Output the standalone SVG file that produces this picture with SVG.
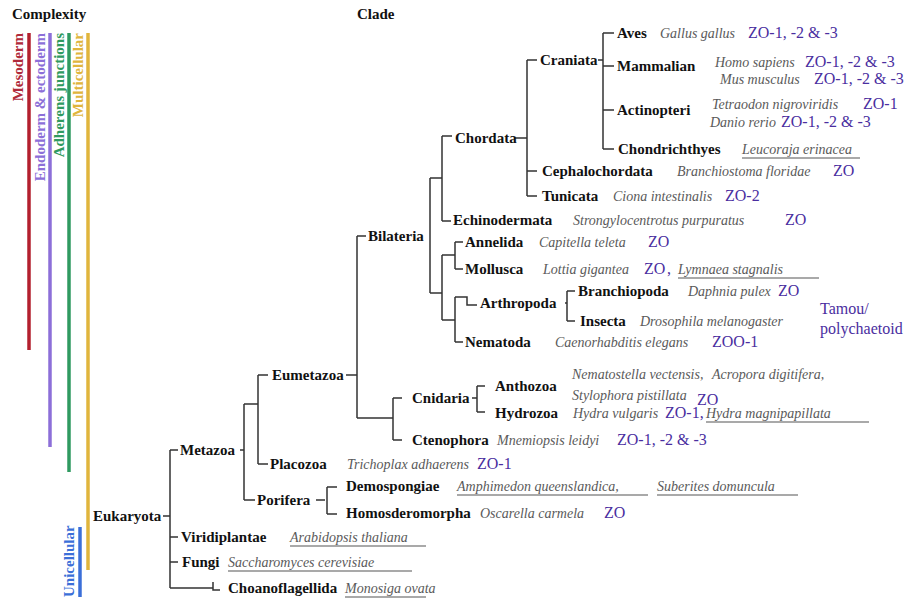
<svg xmlns="http://www.w3.org/2000/svg" width="908" height="600" viewBox="0 0 908 600">
<style>
text{font-family:"Liberation Serif","Times New Roman",serif;}
.lb{font-weight:bold;font-size:15px;fill:#111;}
.hd{font-weight:bold;font-size:15px;fill:#111;}
.sp{font-style:italic;font-size:14px;fill:#5a5a5a;}
.zo{font-size:16px;fill:#4a2ea0;}
.ul{stroke:#555;stroke-width:1.2;}
.tr{fill:none;stroke:#333;stroke-width:1.5;}
.bar{stroke-width:3.5;stroke-linecap:butt;}
.vt{font-weight:bold;font-size:15px;}
</style>
<rect width="908" height="600" fill="#fff"/>
<g id="complexity">
<text class="hd" x="12" y="19">Complexity</text>
<line class="bar" x1="29" y1="33" x2="29" y2="350" stroke="#b3202e"/>
<line class="bar" x1="50" y1="33" x2="50" y2="447" stroke="#8c6fd8"/>
<line class="bar" x1="69" y1="33" x2="69" y2="472" stroke="#2f9a60"/>
<line class="bar" x1="88" y1="33" x2="88" y2="570" stroke="#e0b53c"/>
<line class="bar" x1="80" y1="527" x2="80" y2="597" stroke="#3b6fd8"/>
<text class="vt" fill="#b02a3a" text-anchor="end" transform="translate(23,33) rotate(-90)">Mesoderm</text>
<text class="vt" fill="#8c6fd8" text-anchor="end" transform="translate(45,33) rotate(-90)">Endoderm &amp; ectoderm</text>
<text class="vt" fill="#2f9a60" text-anchor="end" transform="translate(64,33) rotate(-90)">Adherens junctions</text>
<text class="vt" fill="#e0b53c" text-anchor="end" transform="translate(83,33) rotate(-90)">Multicellular</text>
<text class="vt" fill="#3b6fd8" text-anchor="start" transform="translate(74,597) rotate(-90)">Unicellular</text>
</g>
<text class="hd" x="357" y="19">Clade</text>
<g id="connectors">
<path class="tr" d="M163 516H170M170 450V588M170 450H178M170 537H178M170 562H178M170 588H213M213 582V590H220"/>
<path class="tr" d="M240 450H244M244 404V500M244 404H258M258 375V464M258 375H268M258 464H268M244 500H255"/>
<path class="tr" d="M316 500H325M327 487V514M327 487H337M327 514H337"/>
<path class="tr" d="M346 375H357M357 236V418M357 236H366M357 418H393M393 398V440M393 398H402M393 440H402"/>
<path class="tr" d="M472 398H477M477 386V412M477 386H485M477 412H485"/>
<path class="tr" d="M430 178V293M430 178H442M442 136V221M442 136H452M442 221H451M430 293H442M442 255V320M442 255H455M455 242V269M455 242H463M455 269H463M442 320H455M455 297V342M455 297H467V305H477M455 342H463"/>
<path class="tr" d="M565 303H567M567 291V321M567 291H575M567 321H575"/>
<path class="tr" d="M514 138H527M527 60V196M527 60H537M527 171H537M527 196H537"/>
<path class="tr" d="M598 60H603M603 33V149M603 33H614M603 66H614M603 110H614M603 149H614"/>
</g>
<g id="aves"><text class="lb" x="617" y="38">Aves</text><text class="sp" x="660" y="38">Gallus gallus</text><text class="zo" x="748" y="38">ZO-1, -2 &amp; -3</text></g>
<g id="mammalian"><text class="lb" x="617" y="71">Mammalian</text><text class="sp" x="715" y="67">Homo sapiens</text><text class="zo" x="805" y="67">ZO-1, -2 &amp; -3</text><text class="sp" x="720" y="84">Mus musculus</text><text class="zo" x="814" y="84">ZO-1, -2 &amp; -3</text></g>
<g id="actinopteri"><text class="lb" x="617" y="115">Actinopteri</text><text class="sp" x="712" y="109">Tetraodon nigroviridis</text><text class="zo" x="863" y="109">ZO-1</text><text class="sp" x="710" y="127">Danio rerio</text><text class="zo" x="781" y="127">ZO-1, -2 &amp; -3</text></g>
<g id="chondrichthyes"><text class="lb" x="618" y="154">Chondrichthyes</text><text class="sp" x="742" y="154">Leucoraja erinacea</text><line class="ul" x1="742" y1="158" x2="860" y2="158"/></g>
<g id="craniata"><text class="lb" x="540" y="65">Craniata</text></g>
<g id="chordata"><text class="lb" x="455" y="143">Chordata</text></g>
<g id="cephalochordata"><text class="lb" x="542" y="176">Cephalochordata</text><text class="sp" x="677" y="176">Branchiostoma floridae</text><text class="zo" x="833" y="176">ZO</text></g>
<g id="tunicata"><text class="lb" x="542" y="201">Tunicata</text><text class="sp" x="613" y="201">Ciona intestinalis</text><text class="zo" x="725" y="201">ZO-2</text></g>
<g id="echinodermata"><text class="lb" x="453" y="225">Echinodermata</text><text class="sp" x="573" y="225">Strongylocentrotus purpuratus</text><text class="zo" x="785" y="225">ZO</text></g>
<g id="bilateria"><text class="lb" x="368" y="241">Bilateria</text></g>
<g id="annelida"><text class="lb" x="465" y="247">Annelida</text><text class="sp" x="539" y="247">Capitella teleta</text><text class="zo" x="648" y="247">ZO</text></g>
<g id="mollusca"><text class="lb" x="465" y="274">Mollusca</text><text class="sp" x="543" y="274">Lottia gigantea</text><text class="zo" x="644" y="274">ZO</text><text class="zo" x="667" y="274">,</text><text class="sp" x="678" y="274">Lymnaea stagnalis</text><line class="ul" x1="678" y1="278" x2="819" y2="278"/></g>
<g id="arthropoda"><text class="lb" x="480" y="308">Arthropoda</text></g>
<g id="branchiopoda"><text class="lb" x="578" y="296">Branchiopoda</text><text class="sp" x="688" y="296">Daphnia pulex</text><text class="zo" x="778" y="296">ZO</text></g>
<g id="insecta"><text class="lb" x="580" y="326">Insecta</text><text class="sp" x="640" y="326">Drosophila melanogaster</text><text class="zo" x="820" y="314">Tamou/</text><text class="zo" x="820" y="334">polychaetoid</text></g>
<g id="nematoda"><text class="lb" x="465" y="347">Nematoda</text><text class="sp" x="555" y="347">Caenorhabditis elegans</text><text class="zo" x="712" y="347">ZOO-1</text></g>
<g id="eumetazoa"><text class="lb" x="272" y="380">Eumetazoa</text></g>
<g id="cnidaria"><text class="lb" x="412" y="403">Cnidaria</text></g>
<g id="anthozoa"><text class="lb" x="495" y="391">Anthozoa</text><text class="sp" x="572" y="379">Nematostella vectensis,</text><text class="sp" x="712" y="379">Acropora digitifera,</text><text class="sp" x="572" y="400">Stylophora pistillata</text><text class="zo" x="697" y="405">ZO</text></g>
<g id="hydrozoa"><text class="lb" x="495" y="418">Hydrozoa</text><text class="sp" x="573" y="418">Hydra vulgaris</text><text class="zo" x="665" y="418">ZO-1,</text><text class="sp" x="706" y="418">Hydra magnipapillata</text><line class="ul" x1="706" y1="422" x2="869" y2="422"/></g>
<g id="ctenophora"><text class="lb" x="412" y="445">Ctenophora</text><text class="sp" x="497" y="445">Mnemiopsis leidyi</text><text class="zo" x="617" y="445">ZO-1, -2 &amp; -3</text></g>
<g id="metazoa"><text class="lb" x="180" y="455">Metazoa</text></g>
<g id="placozoa"><text class="lb" x="270" y="469">Placozoa</text><text class="sp" x="347" y="469">Trichoplax adhaerens</text><text class="zo" x="477" y="469">ZO-1</text></g>
<g id="porifera"><text class="lb" x="257" y="505">Porifera</text></g>
<g id="demospongiae"><text class="lb" x="346" y="491">Demospongiae</text><text class="sp" x="457" y="491">Amphimedon queenslandica,</text><line class="ul" x1="457" y1="495" x2="648" y2="495"/><text class="sp" x="657" y="491">Suberites domuncula</text><line class="ul" x1="657" y1="495" x2="798" y2="495"/></g>
<g id="homosderomorpha"><text class="lb" x="346" y="518">Homosderomorpha</text><text class="sp" x="480" y="518">Oscarella carmela</text><text class="zo" x="604" y="518">ZO</text></g>
<g id="eukaryota"><text class="lb" x="93" y="521">Eukaryota</text></g>
<g id="viridiplantae"><text class="lb" x="181" y="542">Viridiplantae</text><text class="sp" x="290" y="542">Arabidopsis thaliana</text><line class="ul" x1="290" y1="546" x2="426" y2="546"/></g>
<g id="fungi"><text class="lb" x="182" y="567">Fungi</text><text class="sp" x="228" y="567">Saccharomyces cerevisiae</text><line class="ul" x1="228" y1="571" x2="412" y2="571"/></g>
<g id="choanoflagellida"><text class="lb" x="228" y="593">Choanoflagellida</text><text class="sp" x="345" y="593">Monosiga ovata</text><line class="ul" x1="345" y1="597" x2="426" y2="597"/></g>
</svg>
